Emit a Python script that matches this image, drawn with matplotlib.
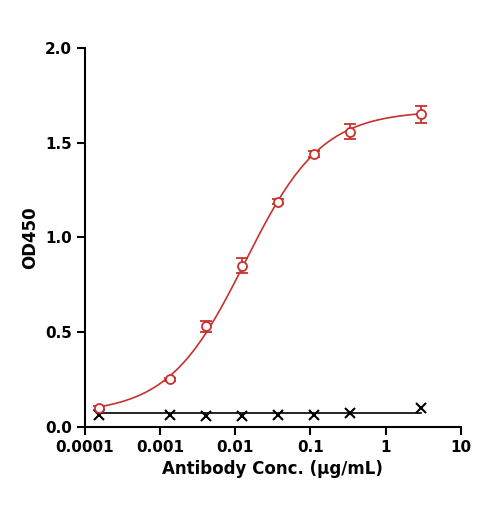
import numpy as np
import matplotlib.pyplot as plt

conc = [0.000152, 0.00137, 0.00412, 0.0123, 0.037, 0.111, 0.333, 3.0]
od_red = [0.10, 0.25, 0.53, 0.85, 1.19, 1.44, 1.56, 1.65]
err_red = [0.01, 0.01, 0.03, 0.04, 0.015, 0.015, 0.04, 0.045]
od_blk = [0.06, 0.06, 0.055, 0.055, 0.06, 0.06, 0.07, 0.10]

# 4PL fit parameters (estimated)
bottom, top, ec50, hill = 0.07, 1.67, 0.0135, 0.85
xf = np.logspace(np.log10(conc[0]), np.log10(conc[-1]), 300)
yf = bottom + (top - bottom) / (1 + (ec50 / xf) ** hill)

fig, ax = plt.subplots(figsize=(4.85, 5.08), dpi=100)
fig.subplots_adjust(left=0.175, right=0.95, top=0.905, bottom=0.16)

red = '#c8312d'
ax.plot(xf, yf, color=red, lw=1.2)
ax.errorbar(conc, od_red, yerr=err_red, fmt='o', mfc='white', mec=red,
            ecolor=red, ms=6.5, mew=1.3, capsize=4, elinewidth=1.3)
ax.plot([conc[0], conc[-1]], [0.07, 0.07], color='black', lw=1.2)
ax.plot(conc, od_blk, 'x', color='black', ms=6.5, mew=1.5)

ax.set_xscale('log')
ax.set_xlim(0.0001, 10)
ax.set_ylim(0, 2.0)
ax.set_xticks([0.0001, 0.001, 0.01, 0.1, 1, 10])
ax.set_xticklabels(['0.0001', '0.001', '0.01', '0.1', '1', '10'])
ax.set_yticks([0, 0.5, 1.0, 1.5, 2.0])
ax.set_yticklabels(['0.0', '0.5', '1.0', '1.5', '2.0'])
ax.minorticks_off()
for s in ['top', 'right']:
    ax.spines[s].set_visible(False)
for s in ['left', 'bottom']:
    ax.spines[s].set_linewidth(1.5)
ax.tick_params(width=1.5, length=6, labelsize=11)
for lab in ax.get_xticklabels() + ax.get_yticklabels():
    lab.set_fontweight('bold')
ax.set_xlabel('Antibody Conc. (μg/mL)', fontsize=12, fontweight='bold')
ax.set_ylabel('OD450', fontsize=12, fontweight='bold')

fig.savefig('out.png')
